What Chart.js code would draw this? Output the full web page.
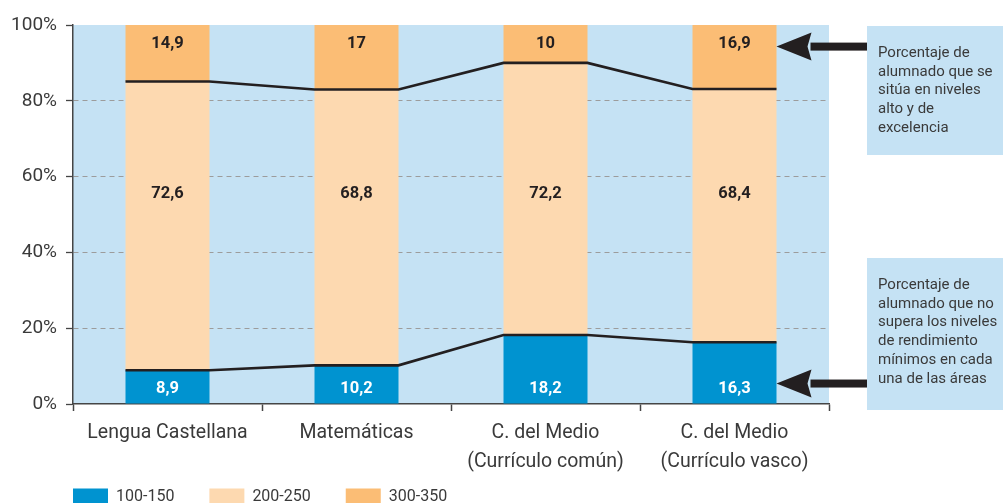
<!DOCTYPE html>
<html lang="es">
<head>
<meta charset="utf-8">
<title>Porcentaje de alumnado por nivel de rendimiento</title>
<script src="https://cdn.jsdelivr.net/npm/chart.js@4/dist/chart.umd.min.js"></script>
<style>
  html, body { margin: 0; padding: 0; background: #ffffff; }
  #wrap { width: 1003px; height: 503px; position: relative; }
</style>
</head>
<body>
<div id="wrap"><canvas id="chart" width="1003" height="503"></canvas></div>
<script>
// ---- data ----
const categories = [
  ['Lengua Castellana'],
  ['Matemáticas'],
  ['C. del Medio', '(Currículo común)'],
  ['C. del Medio', '(Currículo vasco)']
];
const seriesNames = ['100-150', '200-250', '300-350'];
const lowLevel  = [8.9, 10.2, 18.2, 16.3];   // 100-150
const midLevel  = [72.6, 68.8, 72.2, 68.4];  // 200-250
const highLevel = [14.9, 17, 10, 16.9];      // 300-350
const yTicks = [0, 20, 40, 60, 80, 100];
const noteHigh = ['Porcentaje de', 'alumnado que se', 'sitúa en niveles', 'alto y de', 'excelencia'];
const noteLow  = ['Porcentaje de', 'alumnado que no', 'supera los niveles', 'de rendimiento', 'mínimos en cada', 'una de las áreas'];

// ---- style ----
const COLORS = { low: '#0093d0', mid: '#fdd9b0', high: '#fbbd75', plot: '#c5e2f4', ink: '#231f20', text: '#3a3a3a', axis: '#454545', grid: '#9c9c9c' };
const FONT = "Roboto, 'Open Sans', 'Liberation Sans', sans-serif";
const BAR_FRACTION = 84 / 189;
const HALF_BAR = BAR_FRACTION / 2;
const fmt = v => String(v).replace('.', ',');

// segment boundaries of each column
const lowBars  = lowLevel.map(v => [0, v]);
const midBars  = lowLevel.map((v, i) => [v, 100 - highLevel[i]]);
const highBars = highLevel.map(v => [100 - v, 100]);
const stepLine = vals => vals.flatMap((v, i) => [{ x: i - HALF_BAR, y: v }, { x: i + HALF_BAR, y: v }]);

const barCommon = { grouped: false, categoryPercentage: 1, barPercentage: BAR_FRACTION, borderWidth: 0, order: 2 };
const lineCommon = { type: 'line', xAxisID: 'xl', borderColor: COLORS.ink, borderWidth: 2.6, pointRadius: 0, tension: 0, fill: false, order: 1 };

// light blue plot background
const plotBackground = {
  id: 'plotBackground',
  beforeDraw(chart) {
    const { ctx, chartArea: a } = chart;
    ctx.save();
    ctx.fillStyle = COLORS.plot;
    ctx.fillRect(a.left, a.top, a.right - a.left, a.bottom - a.top);
    ctx.restore();
  }
};

// legend flush with the plot's left edge, at the foot of the figure
const legendPlacement = {
  id: 'legendPlacement',
  afterLayout(chart) {
    const lg = chart.legend;
    const pad = lg.options.labels.padding;
    lg.left = chart.chartArea.left - pad;
    lg.top = 488.5 - pad;
  }
};

// value labels inside the segments
const LABEL_Y = { high: 95.1, mid: 55.4, low: 4.0 };
const segmentLabels = {
  id: 'segmentLabels',
  afterDatasetsDraw(chart) {
    const { ctx, scales: { x, y } } = chart;
    ctx.save();
    ctx.font = 'bold 16.5px ' + FONT;
    ctx.textAlign = 'center';
    ctx.textBaseline = 'middle';
    categories.forEach((c, i) => {
      const px = x.getPixelForValue(i);
      ctx.fillStyle = COLORS.ink;
      ctx.fillText(fmt(highLevel[i]), px, y.getPixelForValue(LABEL_Y.high));
      ctx.fillText(fmt(midLevel[i]), px, y.getPixelForValue(LABEL_Y.mid));
      ctx.fillStyle = '#ffffff';
      ctx.fillText(fmt(lowLevel[i]), px, y.getPixelForValue(LABEL_Y.low));
    });
    ctx.restore();
  }
};

// explanatory notes with arrows pointing at the last column
const ARROW_Y = { high: 94.3, low: 5.4 };
const notes = {
  id: 'notes',
  afterDraw(chart) {
    const { ctx, chartArea: a, scales: { x, y } } = chart;
    const boxLeft = a.right + 38;
    const tipX = x.getPixelForValue(categories.length - 1) + (x.getPixelForValue(1) - x.getPixelForValue(0)) * HALF_BAR;
    const boxes = [
      { top: 26, bottom: 155, lines: noteHigh, arrowY: y.getPixelForValue(ARROW_Y.high) },
      { top: 258, bottom: 410, lines: noteLow, arrowY: y.getPixelForValue(ARROW_Y.low) }
    ];
    ctx.save();
    boxes.forEach(b => {
      ctx.fillStyle = COLORS.plot;
      ctx.fillRect(boxLeft, b.top, chart.width - boxLeft, b.bottom - b.top);
      ctx.fillStyle = COLORS.text;
      ctx.font = '15px ' + FONT;
      ctx.textAlign = 'left';
      ctx.textBaseline = 'middle';
      b.lines.forEach((t, k) => ctx.fillText(t, boxLeft + 11, b.top + 27 + k * 18.75));
      // arrow
      ctx.fillStyle = COLORS.ink;
      const headLen = 35, headHalf = 14, shaftHalf = 4;
      ctx.fillRect(tipX + headLen - 1, b.arrowY - shaftHalf, boxLeft - tipX - headLen + 1, shaftHalf * 2);
      ctx.beginPath();
      ctx.moveTo(tipX, b.arrowY);
      ctx.lineTo(tipX + headLen, b.arrowY - headHalf);
      ctx.lineTo(tipX + headLen - 4, b.arrowY);
      ctx.lineTo(tipX + headLen, b.arrowY + headHalf);
      ctx.closePath();
      ctx.fill();
    });
    ctx.restore();
  }
};

new Chart(document.getElementById('chart'), {
  type: 'bar',
  data: {
    labels: categories,
    datasets: [
      { label: seriesNames[0], data: lowBars, backgroundColor: COLORS.low, ...barCommon },
      { label: seriesNames[1], data: midBars, backgroundColor: COLORS.mid, ...barCommon },
      { label: seriesNames[2], data: highBars, backgroundColor: COLORS.high, ...barCommon },
      { label: 'low', data: stepLine(lowLevel), ...lineCommon },
      { label: 'high', data: stepLine(highLevel.map(v => 100 - v)), ...lineCommon }
    ]
  },
  options: {
    responsive: false,
    animation: false,
    devicePixelRatio: 1,
    layout: { padding: { left: 0, right: 174, top: 25, bottom: 0 } },
    plugins: {
      tooltip: { enabled: false },
      legend: {
        position: 'bottom',
        align: 'start',
        maxHeight: 20,
        labels: {
          boxWidth: 35,
          boxHeight: 16,
          padding: 35,
          color: COLORS.text,
          font: { family: FONT, size: 16 },
          filter: item => item.datasetIndex < 3
        }
      }
    },
    scales: {
      x: {
        type: 'category',
        offset: true,
        grid: { display: true, drawOnChartArea: false, drawTicks: true, offset: true, tickLength: 7, tickColor: COLORS.axis, tickWidth: 1.5 },
        border: { display: true, color: COLORS.axis, width: 1.5 },
        ticks: { color: COLORS.text, font: { family: FONT, size: 19.5, lineHeight: 1.5 }, padding: 7, maxRotation: 0, autoSkip: false },
        afterFit(scale) { scale.height = 79; }
      },
      xl: { type: 'linear', display: false, offset: false, min: -0.5, max: categories.length - 0.5 },
      y: {
        min: 0,
        max: 100,
        afterBuildTicks(scale) { scale.ticks = yTicks.map(v => ({ value: v })); },
        grid: {
          color: c => (c.tick && (c.tick.value === 0 || c.tick.value === 100)) ? 'rgba(0,0,0,0)' : COLORS.grid,
          tickColor: COLORS.axis,
          tickLength: 7,
          tickWidth: 1.3,
          tickBorderDash: [],
          lineWidth: 1
        },
        border: { display: true, color: COLORS.axis, width: 1.5, dash: [5, 4] },
        ticks: { color: COLORS.text, font: { family: FONT, size: 19 }, padding: 9, callback: v => v + '%' },
        afterFit(scale) { scale.width = 73; }
      }
    }
  },
  plugins: [plotBackground, legendPlacement, segmentLabels, notes]
});
</script>
</body>
</html>
